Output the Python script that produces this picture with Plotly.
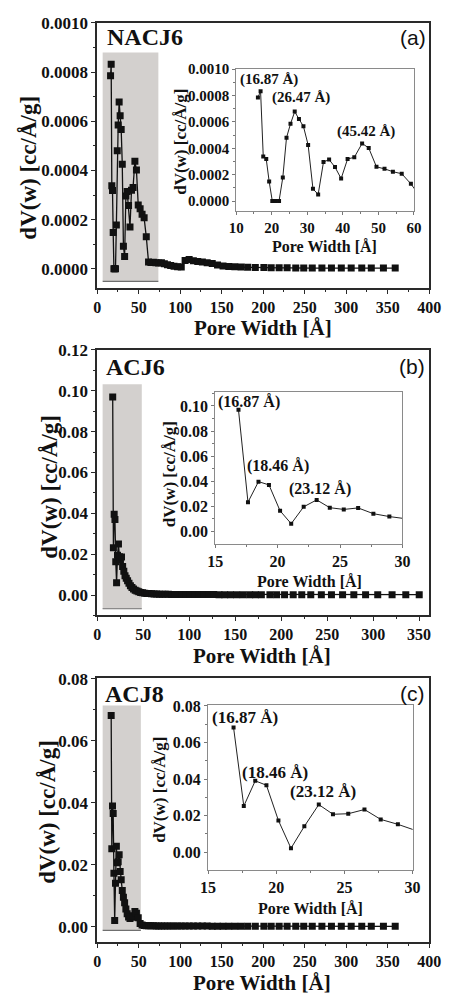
import plotly.graph_objects as go

# ---------------- data ----------------
pore_a = [16.12, 16.87, 17.62, 18.46, 19.28, 20.16, 21.08, 22.06, 23.12, 24.16,
          25.28, 26.47, 27.66, 28.92, 30.24, 31.6, 33.06, 34.56, 36.14, 37.8,
          39.52, 41.34, 43.22, 45.42, 47.28, 49.46, 51.72, 54.08, 56.56, 59.14,
          61.86, 64.7, 67.66, 70.76, 74.0, 77.4, 80.94, 84.66, 88.54, 92.6,
          96.84, 101.28, 105.92, 110.78, 115.86, 121.16, 126.72, 132.52, 138.6, 144.96,
          151.6, 158.54, 165.8, 173.4, 181.36, 190.5, 200.8, 209.6, 219.2, 228.8,
          239.2, 248.8, 259.1, 270.7, 282.2, 294.1, 306.0, 318.7, 330.2, 344.8, 359.0]
dv_a = [0.000785, 0.000832, 0.000338, 0.000318, 0.000148, 0.0, 0.0, 0.0, 0.000178, 0.000480,
        0.000585, 0.000678, 0.000622, 0.000566, 0.000425, 0.000092, 0.000050, 0.000296, 0.000314, 0.000257,
        0.000170, 0.000319, 0.000331, 0.000437, 0.000402, 0.000259, 0.000244, 0.000222, 0.000207, 0.000130,
        0.000028, 0.000026, 0.000027, 0.000025, 0.000023, 0.000024, 0.000020, 0.000016, 0.000013, 0.000010,
        0.000008, 0.000007, 0.000034, 0.000038, 0.000033, 0.000030, 0.000028, 0.000025, 0.000021, 0.000015,
        0.000011, 0.000009, 0.000008, 0.000007, 0.000006, 0.000005, 0.000005, 0.000004, 0.000004, 0.000004,
        0.000003, 0.000003, 0.000003, 0.000003, 0.000003, 0.000003, 0.000003, 0.000003, 0.000003, 0.000003, 0.000003]

pore_b = [16.87, 17.63, 18.47, 19.31, 20.2, 21.09, 22.09, 23.13, 24.18, 25.3,
          26.45, 27.67, 28.95, 30.24, 31.6, 33.06, 34.56, 36.14, 37.8, 39.52,
          41.34, 43.22, 45.2, 47.28, 49.46, 51.72, 54.08, 56.56, 59.14, 61.86,
          64.7, 67.66, 70.76, 74.0, 77.4, 80.94, 84.66, 88.54, 92.6, 96.84,
          101.28, 105.92, 110.78, 115.86, 121.16, 126.72, 132.52, 138.6, 144.96, 151.6,
          158.54, 165.8, 172.0, 178.5, 187.8, 195.1, 203.7, 213.1, 222.4, 232.2,
          243.7, 254.7, 266.8, 279.0, 291.8, 305.0, 320.6, 335.5, 350.1]
dv_b = [0.0969, 0.0232, 0.0396, 0.0370, 0.0163, 0.0060, 0.0195, 0.0250, 0.0188, 0.0174,
        0.0186, 0.0140, 0.0117, 0.0094, 0.0082, 0.0070, 0.0058, 0.0046, 0.0037, 0.0030,
        0.0024, 0.0020, 0.0016, 0.0013, 0.0011, 0.0009, 0.0008, 0.0007, 0.0006, 0.0005,
        0.0005, 0.0004, 0.0004, 0.0004, 0.0004, 0.0003, 0.0003, 0.0003, 0.0003, 0.0003,
        0.0003, 0.0003, 0.0003, 0.0003, 0.0003, 0.0003, 0.0002, 0.0002, 0.0002, 0.0002,
        0.0002, 0.0002, 0.0002, 0.0002, 0.0002, 0.0002, 0.0002, 0.0002, 0.0002, 0.0002,
        0.0002, 0.0002, 0.0002, 0.0002, 0.0002, 0.0002, 0.0002, 0.0002, 0.0002]

pore_c = [16.87, 17.62, 18.46, 19.28, 20.16, 21.08, 22.06, 23.12, 24.16, 25.28,
          26.47, 27.66, 28.92, 30.24, 31.6, 33.06, 34.56, 36.14, 37.8, 39.52,
          41.34, 43.22, 45.42, 47.28, 49.46, 51.72, 54.08, 56.56, 59.14, 61.86,
          64.7, 67.66, 70.76, 74.0, 77.4, 80.94, 84.66, 88.54, 92.6, 96.84,
          101.28, 105.92, 110.78, 115.86, 121.16, 126.72, 132.52, 138.6, 144.96, 151.6,
          158.54, 165.8, 173.4, 181.36, 190.5, 200.8, 209.6, 219.2, 228.8, 239.2,
          248.8, 259.1, 270.7, 282.2, 294.1, 306.0, 318.7, 330.2, 344.8, 359.0]
dv_c = [0.0682, 0.0252, 0.0390, 0.0366, 0.0173, 0.0021, 0.0141, 0.0260, 0.0207, 0.0210,
        0.0233, 0.0179, 0.0152, 0.0118, 0.0096, 0.0078, 0.0058, 0.0043, 0.0032, 0.0027,
        0.0031, 0.0036, 0.0050, 0.0044, 0.0030, 0.0011, 0.0006, 0.0005, 0.0004, 0.0004,
        0.0004, 0.0004, 0.0003, 0.0003, 0.0003, 0.0003, 0.0003, 0.0003, 0.0003, 0.0003,
        0.0003, 0.0003, 0.0003, 0.0003, 0.0003, 0.0003, 0.0003, 0.0002, 0.0002, 0.0002,
        0.0002, 0.0002, 0.0002, 0.0002, 0.0002, 0.0002, 0.0002, 0.0002, 0.0002, 0.0002,
        0.0002, 0.0002, 0.0002, 0.0002, 0.0002, 0.0002, 0.0002, 0.0002, 0.0002, 0.0002]

sample_labels = ["NACJ6", "ACJ6", "ACJ8"]
panel_tags = ["(a)", "(b)", "(c)"]
peaks_a = [("(16.87 Å)", 19.3, 0.000918), ("(26.47 Å)", 28.3, 0.000783), ("(45.42 Å)", 46.6, 0.000524)]
peaks_b = [("(16.87 Å)", 17.7, 0.1034), ("(18.46 Å)", 20.05, 0.0518), ("(23.12 Å)", 23.4, 0.0336)]
peaks_c = [("(16.87 Å)", 17.73, 0.0737), ("(18.46 Å)", 19.9, 0.0437), ("(23.12 Å)", 23.4, 0.033)]

x_title = "Pore Width [Å]"
y_title = "dV(w) [cc/Å/g]"

# ---------------- layout helpers ----------------
W, H = 453, 996
SERIF = "Liberation Serif"
SANS = "Liberation Sans"


def px(x):
    return x / W


def py(y):
    return 1 - y / H


def bfont(size, color="#111"):
    return dict(family=SERIF, size=size, color=color, weight="bold")


fig = go.Figure()

panels = [
    dict(x=pore_a, y=dv_a, mx=[0, 400], my=[-0.00008, 0.001], mbox=(93.3, 440.7, 14, 282),
         mdt=0.0002, mfmt=".4f", mxdt=50,
         ix=[10, 60], iy=[-0.000077, 0.001], ibox=(238.7, 424.7, 60.7, 204), idt=0.0002,
         ixdt=10, ifmt=".4f", peaks=peaks_a, pfs=15, itf=15,
         shade=(6.6, 73.7, -0.000051, 0.00088),
         lab=(143, 28), tag=(423.5, 29), xt=(267, 322), yt=(21, 160), ixt=(330.7, 240), iyt=(181, 134)),
    dict(x=pore_b, y=dv_b, mx=[0, 361], my=[-0.01, 0.12], mbox=(93.3, 440.7, 344, 612),
         mdt=0.02, mfmt=".2f", mxdt=50,
         ix=[15, 30], iy=[-0.0099, 0.111], ibox=(216.7, 412.7, 386.7, 539.5), idt=0.02,
         ixdt=5, ifmt=".2f", peaks=peaks_b, pfs=16, itf=16,
         shade=(5.9, 48.5, -0.0067, 0.1032),
         lab=(133, 361), tag=(422.5, 361), xt=(266, 653), yt=(44, 482), ixt=(315, 578), iyt=(169, 470)),
    dict(x=pore_c, y=dv_c, mx=[0, 400], my=[-0.005, 0.0803], mbox=(93.3, 440.7, 675, 942),
         mdt=0.02, mfmt=".2f", mxdt=50,
         ix=[15, 30], iy=[-0.0096, 0.0803], ibox=(209.3, 423.3, 702.7, 868.5), idt=0.02,
         ixdt=5, ifmt=".2f", peaks=peaks_c, pfs=17, itf=16,
         shade=(6.6, 52.6, -0.0011, 0.0714),
         lab=(132, 691), tag=(423, 691), xt=(266, 983), yt=(41, 810), ixt=(316, 908), iyt=(159, 788)),
]

layout = dict(
    width=W, height=H, margin=dict(l=0, r=0, t=0, b=0),
    paper_bgcolor="white", plot_bgcolor="white", showlegend=False,
)
shapes = []
annotations = []

for i, p in enumerate(panels):
    m = 2 * i + 1
    n = 2 * i + 2
    mx_name = "x" if m == 1 else f"x{m}"
    my_name = "y" if m == 1 else f"y{m}"
    ix_name = f"x{n}"
    iy_name = f"y{n}"
    mxk = "xaxis" if m == 1 else f"xaxis{m}"
    myk = "yaxis" if m == 1 else f"yaxis{m}"

    fig.add_trace(go.Scatter(
        x=p["x"], y=p["y"], xaxis=mx_name, yaxis=my_name, mode="lines+markers",
        line=dict(color="#111", width=1.3),
        marker=dict(symbol="square", size=7, color="#111"),
    ))
    fig.add_trace(go.Scatter(
        x=p["x"], y=p["y"], xaxis=ix_name, yaxis=iy_name, mode="lines+markers",
        line=dict(color="#222", width=1),
        marker=dict(symbol="square", size=4, color="#111"),
    ))

    l, r, t, b = p["mbox"]
    common_main = dict(
        showline=True, linecolor="#2a2a2a", linewidth=1.5, mirror=True,
        ticks="outside", ticklen=4, tickwidth=1.2, tickcolor="#2a2a2a",
        showgrid=False, zeroline=False, tickfont=bfont(17),
    )
    layout[mxk] = dict(common_main, domain=[px(l), px(r)], range=p["mx"], anchor=my_name,
                       tick0=0, dtick=p["mxdt"], tickfont=bfont(16),
                       minor=dict(ticks="outside", ticklen=2, dtick=p["mxdt"] / 2,
                                  tickcolor="#2a2a2a", showgrid=False))
    layout[myk] = dict(common_main, domain=[py(b), py(t)], range=p["my"], anchor=mx_name,
                       tick0=0, dtick=p["mdt"], tickformat=p["mfmt"],
                       minor=dict(ticks="outside", ticklen=2, dtick=p["mdt"] / 2,
                                  tickcolor="#2a2a2a", showgrid=False))

    il, ir, it, ib = p["ibox"]
    common_in = dict(
        showline=True, linecolor="#8a8a8a", linewidth=1, mirror=True,
        ticks="outside", ticklen=3, tickwidth=1, tickcolor="#777",
        showgrid=False, zeroline=False, tickfont=bfont(p["itf"]),
    )
    layout[f"xaxis{n}"] = dict(common_in, domain=[px(il), px(ir)], range=p["ix"], anchor=iy_name,
                               tick0=0, dtick=p["ixdt"],
                               minor=dict(ticks="outside", ticklen=2, dtick=p["ixdt"] / 2,
                                          tickcolor="#777", showgrid=False))
    layout[f"yaxis{n}"] = dict(common_in, domain=[py(ib), py(it)], range=p["iy"], anchor=ix_name,
                               tick0=0, dtick=p["idt"], tickformat=p["ifmt"],
                               minor=dict(ticks="outside", ticklen=2, dtick=p["idt"] / 2,
                                          tickcolor="#777", showgrid=False))

    sx0, sx1, sy0, sy1 = p["shade"]
    shapes.append(dict(type="rect", xref=mx_name, yref=my_name, x0=sx0, x1=sx1, y0=sy0, y1=sy1,
                       fillcolor="#d3d0ce", line=dict(width=0), layer="below"))
    shapes.append(dict(type="line", xref=mx_name, yref=my_name, x0=sx0, x1=sx1, y0=sy0, y1=sy0,
                       line=dict(color="#6f6f6f", width=1.2), layer="below"))

    annotations.append(dict(text=sample_labels[i], xref="paper", yref="paper",
                            x=px(p["lab"][0]), y=py(p["lab"][1]), showarrow=False,
                            xanchor="center", yanchor="middle", font=bfont(24)))
    annotations.append(dict(text=panel_tags[i], xref="paper", yref="paper",
                            x=px(p["tag"][0]), y=py(p["tag"][1]), showarrow=False,
                            xanchor="center", yanchor="middle",
                            font=dict(family=SANS, size=21, color="#111")))
    annotations.append(dict(text=x_title, xref="paper", yref="paper",
                            x=px(p["xt"][0]), y=py(p["xt"][1]), showarrow=False,
                            xanchor="center", yanchor="middle", font=bfont(21)))
    annotations.append(dict(text=y_title, xref="paper", yref="paper", textangle=-90,
                            x=px(p["yt"][0]), y=py(p["yt"][1]), showarrow=False,
                            xanchor="center", yanchor="middle", font=bfont(23)))
    annotations.append(dict(text=x_title, xref="paper", yref="paper",
                            x=px(p["ixt"][0]), y=py(p["ixt"][1]), showarrow=False,
                            xanchor="center", yanchor="middle", font=bfont(16)))
    annotations.append(dict(text=y_title, xref="paper", yref="paper", textangle=-90,
                            x=px(p["iyt"][0]), y=py(p["iyt"][1]), showarrow=False,
                            xanchor="center", yanchor="middle", font=bfont(17)))
    for txt, xx, yy in p["peaks"]:
        annotations.append(dict(text=txt, xref=ix_name, yref=iy_name, x=xx, y=yy,
                                showarrow=False, xanchor="center", yanchor="middle",
                                font=bfont(p["pfs"])))

layout["shapes"] = shapes
layout["annotations"] = annotations
fig.update_layout(**layout)

fig.write_html("out.html")
